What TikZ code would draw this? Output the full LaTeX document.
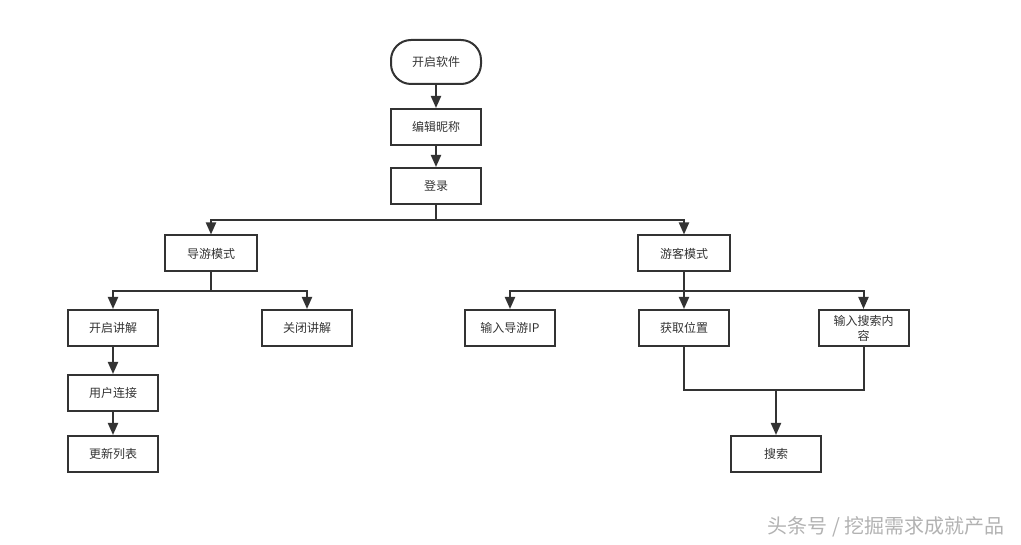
\documentclass[tikz,border=0pt]{standalone}
\usepackage{fontspec}
\newfontfamily\cjk{Noto Sans CJK SC}
\usetikzlibrary{arrows.meta}
\definecolor{ink}{HTML}{333333}
\tikzstyle{box}=[draw=ink,line width=2pt,text=ink,minimum width=90pt,minimum height=36pt,inner sep=2pt,font=\cjk\fontsize{12}{15}\selectfont,align=center]
\tikzstyle{start}=[box,minimum height=44pt,rounded corners=20pt]
\tikzstyle{line}=[draw=ink,line width=2pt]
\tikzstyle{arrow}=[line,-{Triangle[length=12pt,width=10pt]}]

\begin{document}
\begin{tikzpicture}[x=1pt,y=-1pt]
	\useasboundingbox (0,0) rectangle (1021,545);
	% main column
	\node[start] (open) at (436,62) {开启软件};
	\node[box] (nick) at (436,127) {编辑昵称};
	\node[box] (login) at (436,186) {登录};
	% two modes
	\node[box,minimum width=92pt] (guide) at (211,253.5) {导游模式};
	\node[box,minimum width=92pt] (tourist) at (684,253.5) {游客模式};
	% guide branch
	\node[box] (talkon) at (113,328) {开启讲解};
	\node[box] (talkoff) at (307,328) {关闭讲解};
	\node[box] (users) at (113,393) {用户连接};
	\node[box] (list) at (113,454) {更新列表};
	% tourist branch
	\node[box] (guideip) at (510,328) {输入导游IP};
	\node[box] (locate) at (684,328) {获取位置};
	\node[box] (keyword) at (863.5,328) {输入搜索内\\容};
	\node[box] (search) at (776,454) {搜索};
	% junctions
	\coordinate (modesplit) at (436,220);
	\coordinate (guidesplit) at (211,291);
	\coordinate (touristsplit) at (684,291);
	\coordinate (merge) at (776,390);
	% connectors
	\draw[arrow] (open) -- (nick);
	\draw[arrow] (nick) -- (login);
	\draw[line] (login) -- (modesplit);
	\draw[arrow] (modesplit) -| (guide);
	\draw[arrow] (modesplit) -| (tourist);
	\draw[line] (guide) -- (guidesplit);
	\draw[arrow] (guidesplit) -| (talkon);
	\draw[arrow] (guidesplit) -| (talkoff);
	\draw[arrow] (talkon) -- (users);
	\draw[arrow] (users) -- (list);
	\draw[arrow] (tourist) -- (locate);
	\draw[arrow] (touristsplit) -| (guideip);
	\draw[arrow] (touristsplit) -| (keyword);
	\draw[line] (locate) |- (merge) -| (keyword);
	\draw[arrow] (merge) -- (search);
	% watermark
	\node[text=black!30,font=\cjk\fontsize{20}{24}\selectfont] (mark) at (886,527) {头条号 / 挖掘需求成就产品};
\end{tikzpicture}
\end{document}
